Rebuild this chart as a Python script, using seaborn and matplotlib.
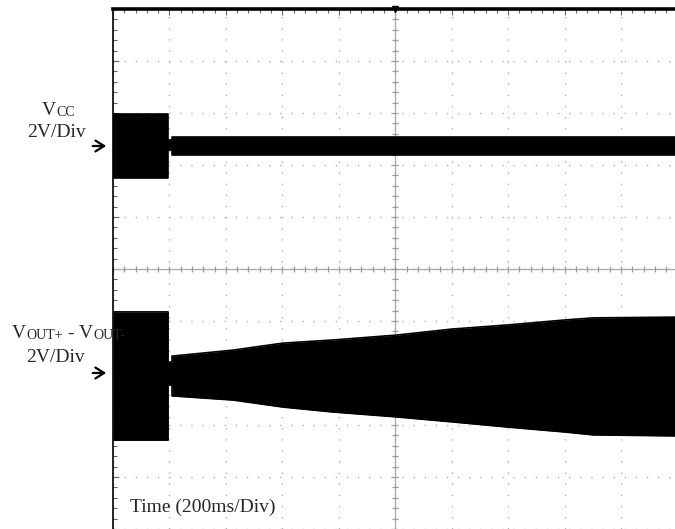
"""Scope capture: Vcc and differential output at start-up."""

import matplotlib

matplotlib.use("Agg")
import matplotlib.pyplot as plt
import numpy as np
import seaborn as sns

# time base, ms (200 ms/div, 10 div)
time_ms = [0, 195, 195, 209, 209, 425, 602, 779, 1006, 1201, 1399, 1601, 1701, 2000]

# VOUT+ - VOUT- envelope, volts relative to channel marker
vout_upper = [2.35, 2.35, 0.42, 0.42, 0.65, 0.88, 1.15, 1.27, 1.46, 1.69, 1.85, 2.04, 2.12, 2.15]
vout_lower = [-2.58, -2.58, -0.46, -0.46, -0.88, -1.04, -1.31, -1.50, -1.69, -1.88, -2.08, -2.27, -2.38, -2.42]

# VCC envelope, volts relative to channel marker
vcc_upper = [1.23, 1.23, 0.23, 0.23, 0.35, 0.35, 0.35, 0.35, 0.35, 0.35, 0.35, 0.35, 0.35, 0.35]
vcc_lower = [-1.23, -1.23, -0.15, -0.15, -0.35, -0.35, -0.35, -0.35, -0.35, -0.35, -0.35, -0.35, -0.35, -0.35]

VCC_OFFSET = 4.73   # screen volts of the CH1 ground marker
VOUT_OFFSET = -4.0  # screen volts of the CH2 ground marker
MS_PER_DIV = 200
V_PER_DIV = 2

W, H = 675, 529
SERIF = ["Liberation Serif", "DejaVu Serif"]

sns.set_theme(style="white")
plt.rcParams["font.family"] = SERIF

fig = plt.figure(figsize=(W / 100, H / 100), dpi=100)
ax = fig.add_axes([113 / W, 0, 564.5 / W, 520 / H])
ax.set_xlim(0, 10 * MS_PER_DIV)
ax.set_ylim(-5 * V_PER_DIV, 5 * V_PER_DIV)

# graticule
ax.set_xticks(np.arange(0, 10 * MS_PER_DIV + 1, MS_PER_DIV))
ax.set_yticks(np.arange(-10, 11, V_PER_DIV))
ax.set_xticks(np.arange(0, 10 * MS_PER_DIV + 1, MS_PER_DIV / 5), minor=True)
ax.set_yticks(np.arange(-10, 10.01, V_PER_DIV / 5), minor=True)
ax.set_xticklabels([])
ax.set_yticklabels([])
ax.grid(True, which="major", color="#b0b0b0", linestyle=(0, (1, 7)), linewidth=1.0)
ax.tick_params(which="both", direction="in", top=True, left=True, bottom=False, right=False,
               color="#666666", width=0.8)
ax.tick_params(which="major", length=4)
ax.tick_params(which="minor", length=3)
for side in ("right", "bottom"):
    ax.spines[side].set_visible(False)
ax.spines["left"].set_color("black")
ax.spines["left"].set_linewidth(1.2)
ax.spines["top"].set_color("black")
ax.spines["top"].set_linewidth(2.6)

# centre cross with minor marks
ax.axvline(5 * MS_PER_DIV, color="#a8a8a8", lw=0.9, zorder=1)
ax.axhline(0, color="#a8a8a8", lw=0.9, zorder=1)
minor_y = np.arange(-10, 10.01, V_PER_DIV / 5)
minor_x = np.arange(0, 10 * MS_PER_DIV + 1, MS_PER_DIV / 5)
ax.plot(np.full_like(minor_y, 5 * MS_PER_DIV), minor_y, ls="none", marker="_",
        ms=4, mew=0.9, color="#999999", zorder=1)
ax.plot(minor_x, np.zeros_like(minor_x), ls="none", marker="|",
        ms=4, mew=0.9, color="#999999", zorder=1)
ax.plot([5 * MS_PER_DIV], [10], marker="v", ms=5, color="black", clip_on=False, zorder=5)

# traces
t = np.array(time_ms)
for upper, lower, offset in [
    (vcc_upper, vcc_lower, VCC_OFFSET),
    (vout_upper, vout_lower, VOUT_OFFSET),
]:
    up = np.array(upper) + offset
    lo = np.array(lower) + offset
    ax.fill_between(t, lo, up, color="black", lw=0, zorder=3)
    sns.lineplot(x=t, y=up, ax=ax, color="black", lw=1.2, sort=False, estimator=None, zorder=3)
    sns.lineplot(x=t, y=lo, ax=ax, color="black", lw=1.2, sort=False, estimator=None, zorder=3)


def px(x, y):
    return x / W, 1 - y / H


def label(parts, x, y):
    """Write text pieces of different sizes side by side on one baseline."""
    text, size = parts[0]
    prev = fig.text(*px(x, y), text, fontsize=size, va="baseline", ha="left")
    for text, size in parts[1:]:
        prev = ax.annotate(text, xy=(1, 0), xycoords=prev, fontsize=size,
                           va="bottom", ha="left", annotation_clip=False)
    return prev


def marker_arrow(y):
    fig.add_artist(matplotlib.patches.FancyArrowPatch(
        px(90, y), px(109, y), transform=fig.transFigure,
        arrowstyle="->,head_length=0.45,head_width=0.28",
        mutation_scale=14, lw=1.6, color="black"))


label([("V", 14), ("CC", 10)], 42, 115)
fig.text(*px(56, 137), "2V/Div", fontsize=14, ha="center", va="baseline")
marker_arrow(146)

label([("V", 14), ("OUT+", 10), (" - V", 14), ("OUT-", 10)], 12, 338)
fig.text(*px(55, 362), "2V/Div", fontsize=14, ha="center", va="baseline")
marker_arrow(373)

fig.text(*px(130, 512), "Time (200ms/Div)", fontsize=14, ha="left", va="baseline")

fig.savefig("out.png", dpi=100)
